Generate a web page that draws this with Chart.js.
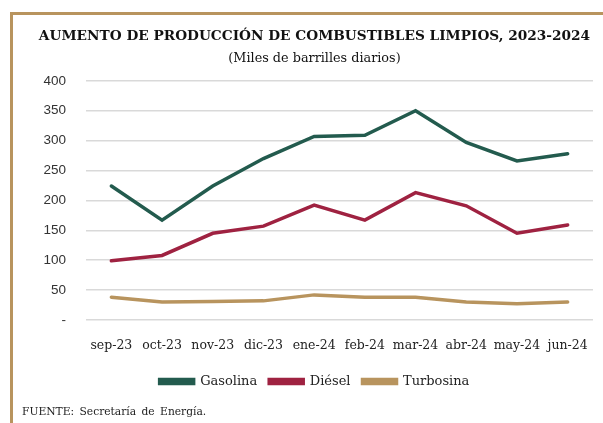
<!DOCTYPE html>
<html>
<head>
<meta charset="utf-8">
<script src="https://cdn.jsdelivr.net/npm/chart.js@4.4.1/dist/chart.umd.min.js"></script>
<style>
  html, body { margin: 0; padding: 0; background: #fff; }
  #wrap { position: relative; width: 603px; height: 423px; overflow: hidden; }
  #frame { position: absolute; left: 10px; top: 12px; right: -5px; bottom: -5px;
           border-top: 3px solid #b8945e; border-left: 3px solid #b8945e; }
  #chart { position: absolute; left: 0; top: 0; }
  #source { position: absolute; left: 22px; top: 405px; font-family: "DejaVu Serif", serif;
            font-size: 10.7px; color: #222; word-spacing: 2px; }
</style>
</head>
<body>
<div id="wrap">
  <div id="frame"></div>
  <canvas id="chart" width="603" height="423"></canvas>
  <div id="source">FUENTE: Secretaría de Energía.</div>
</div>
<script>
var months = ["sep-23", "oct-23", "nov-23", "dic-23", "ene-24", "feb-24", "mar-24", "abr-24", "may-24", "jun-24"];
var gasolina = [224, 167, 224, 270, 307, 309, 350, 297, 266, 278];
var diesel = [99, 108, 145, 157, 192, 167, 213, 191, 145, 159];
var turbosina = [38, 30, 31, 32, 42, 38, 38, 30, 27, 30];

function makeSet (label, data, color) {
    return {
        label: label,
        data: data,
        borderColor: color,
        backgroundColor: color,
        borderWidth: 3.5,
        pointRadius: 0,
        tension: 0,
        borderCapStyle: "round",
        borderJoinStyle: "miter"
    };
}

var serif = "DejaVu Serif";

new Chart(document.getElementById("chart").getContext("2d"), {
    type: "line",
    data: {
        labels: months,
        datasets: [
            makeSet("Gasolina", gasolina, "#235b4e"),
            makeSet("Diésel", diesel, "#9f2241"),
            makeSet("Turbosina", turbosina, "#b8945e")
        ]
    },
    options: {
        responsive: false,
        animation: false,
        layout: { padding: { left: 36, right: 10, top: 28, bottom: 25 } },
        plugins: {
            title: {
                display: true,
                text: "AUMENTO DE PRODUCCIÓN DE COMBUSTIBLES LIMPIOS, 2023-2024",
                color: "#111",
                font: { family: serif, size: 13.7, weight: "bold" },
                padding: { top: 0, bottom: 7 }
            },
            subtitle: {
                display: true,
                text: "(Miles de barrilles diarios)",
                color: "#111",
                font: { family: serif, size: 12.8 },
                padding: { top: 0, bottom: 14 }
            },
            legend: {
                position: "bottom",
                labels: {
                    boxWidth: 34,
                    boxHeight: 4,
                    color: "#222",
                    padding: 12,
                    font: { family: serif, size: 13 }
                }
            },
            tooltip: { enabled: false }
        },
        scales: {
            x: {
                offset: true,
                grid: { display: false },
                border: { display: false },
                ticks: { color: "#222", font: { family: serif, size: 12.5 }, maxRotation: 0, padding: 10 }
            },
            y: {
                min: 0,
                max: 400,
                afterFit: function (scale) { scale.width = 50; },
                grid: { color: "#d9d9d9", lineWidth: 1.5, drawTicks: false },
                border: { display: false },
                ticks: {
                    stepSize: 50,
                    padding: 20,
                    color: "#333",
                    font: { family: "Liberation Sans", size: 13.5 },
                    callback: function (v) { return v === 0 ? "-" : v; }
                }
            }
        }
    }
});
</script>
</body>
</html>
